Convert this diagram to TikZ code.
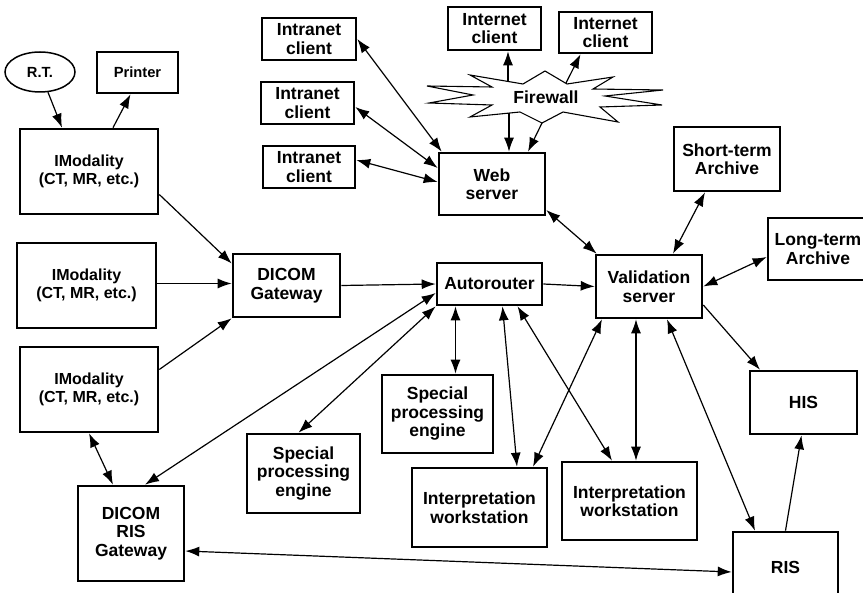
\documentclass[tikz,border=0pt]{standalone}
\usepackage{fontspec}
\setmainfont{Liberation Sans}
\usetikzlibrary{arrows.meta,shapes.geometric}

\begin{document}
\begin{tikzpicture}[x=1pt, y=-1pt,
                    >={Latex[length=14pt,width=10pt]},
                    box/.style={draw, line width=2.6pt, inner sep=0pt, align=center,
                                font=\fontsize{17.5}{18.5}\selectfont\bfseries},
                    smallbox/.style={box, font=\fontsize{14.7}{16}\selectfont\bfseries},
                    modbox/.style={box, minimum width=138pt, minimum height=85pt,
                                   font=\fontsize{16}{18.5}\selectfont\bfseries},
                    link/.style={line width=1.2pt, ->},
                    dlink/.style={line width=1.2pt, <->}]
  \useasboundingbox (0,0) rectangle (863,593);

  \node[draw, ellipse, line width=1.5pt, inner sep=0pt, minimum width=70pt, minimum height=40pt,
        font=\fontsize{14.7}{16}\selectfont\bfseries] (rt) at (40,72) {R.T.};
  \node[smallbox, minimum width=81pt, minimum height=41pt] (printer) at (137.5,72.5) {Printer};
  \node[modbox] (mod1) at (89,171.5) {IModality\\(CT, MR, etc.)};
  \node[modbox, minimum width=139pt] (mod2) at (86.5,285.5) {IModality\\(CT, MR, etc.)};
  \node[modbox] (mod3) at (89,389.5) {IModality\\(CT, MR, etc.)};
  \node[box, minimum width=107pt, minimum height=63pt] (dgw) at (286.5,285.5) {DICOM\\Gateway};
  \node[box, minimum width=106pt, minimum height=95pt] (risgw) at (131,533.5) {DICOM\\RIS\\Gateway};

  \node[box, minimum width=94pt, minimum height=42pt] (intra1) at (309,39) {Intranet\\client};
  \node[box, minimum width=93pt, minimum height=42pt] (intra2) at (307.5,103) {Intranet\\client};
  \node[box, minimum width=92pt, minimum height=42pt] (intra3) at (309,167) {Intranet\\client};
  \node[box, minimum width=93pt, minimum height=43pt] (inet1) at (494.5,28.5) {Internet\\client};
  \node[box, minimum width=93pt, minimum height=41pt] (inet2) at (605.5,32.5) {Internet\\client};

  \draw[line width=1.1pt] (470,75) -- (523,84) -- (545,71) -- (567,84) -- (613,77) -- (593,89)
    -- (663,90) -- (605,96) -- (662,105) -- (600,107) -- (618,122) -- (563,112) -- (542,123)
    -- (520,112) -- (470,117) -- (492,105) -- (429,103) -- (473,95) -- (427,86) -- (492,87) -- cycle;
  \node[font=\fontsize{17.5}{18.5}\selectfont\bfseries] (fw) at (546,97) {Firewall};
  \coordinate (fw1) at (508,81.5);
  \coordinate (fw2) at (566,83);
  \coordinate (fw3) at (509,113);
  \coordinate (fw4) at (542,123);

  \node[box, minimum width=106pt, minimum height=62pt] (web) at (492,184) {Web\\server};
  \node[box, minimum width=105pt, minimum height=42pt] (auto) at (489.5,284) {Autorouter};
  \node[box, minimum width=106pt, minimum height=63pt] (val) at (649,286.5) {Validation\\server};
  \node[box, minimum width=106pt, minimum height=64pt] (sta) at (727,159) {Short-term\\Archive};
  \node[box, minimum width=100pt, minimum height=62pt] (lta) at (818,249) {Long-term\\Archive};
  \node[box, minimum width=113pt, minimum height=79pt] (spe1) at (303.5,473.5) {Special\\processing\\engine};
  \node[box, minimum width=111pt, minimum height=78pt] (spe2) at (437.5,414) {Special\\processing\\engine};
  \node[box, minimum width=135pt, minimum height=79pt] (iws1) at (479.5,507.5) {Interpretation\\workstation};
  \node[box, minimum width=135pt, minimum height=78pt] (iws2) at (629.5,501) {Interpretation\\workstation};
  \node[box, minimum width=107pt, minimum height=63pt] (his) at (803.5,402.5) {HIS};
  \node[box, minimum width=105pt, minimum height=70pt] (ris) at (785.5,567) {RIS};

  \draw[link] (rt) -- ([xshift=-27pt]mod1.north);
  \draw[link] ([xshift=24pt]mod1.north) -- ([xshift=-7pt]printer.south);
  \draw[link] ([yshift=-23pt]mod1.east) -- ([yshift=22pt]dgw.west);
  \draw[link] ([yshift=2pt]mod2.east) -- ([yshift=2pt]dgw.west);
  \draw[link] ([yshift=20pt]mod3.east) -- (dgw.south west);
  \draw[dlink] (mod3.south) -- ([xshift=-18pt]risgw.north);
  \draw[link] (dgw.east) -- (auto.west);
  \draw[link] (auto.east) -- (val.west);
  \draw[dlink] ([yshift=-9pt]auto.west) -- ([xshift=14pt]risgw.north);
  \draw[dlink] (auto.south west) -- ([xshift=-5pt]spe1.north);
  \draw[dlink] ([xshift=-34pt]auto.south) -- ([xshift=18pt]spe2.north);
  \draw[dlink] ([xshift=13pt]auto.south) -- ([xshift=37.5pt]iws1.north);
  \draw[dlink] ([xshift=28pt]auto.south) -- ([xshift=-17.5pt]iws2.north);
  \draw[dlink] ([xshift=-47pt]val.south) -- ([xshift=53.5pt]iws1.north);
  \draw[dlink] ([xshift=-13pt]val.south) -- ([xshift=6.5pt]iws2.north);
  \draw[dlink] ([xshift=18pt]val.south) -- ([xshift=-30.5pt]ris.north);
  \draw[link] ([yshift=-18.5pt]val.east) -- ([xshift=-43.5pt]his.north);
  \draw[link] (ris.north) -- ([xshift=-2pt]his.south);
  \draw[dlink] ([yshift=-17.5pt]risgw.east) -- ([yshift=-5pt]ris.west);
  \draw[dlink] ([xshift=24pt]val.north) -- ([xshift=-22pt]sta.south);
  \draw[dlink] (val.east) -- ([yshift=-8pt]lta.west);
  \draw[dlink] ([yshift=-26pt]web.east) -- ([xshift=2pt]val.north west);
  \draw[dlink] (intra1.east) -- ([xshift=4pt]web.north west);
  \draw[dlink] ([yshift=-4pt]intra2.east) -- ([yshift=16pt]web.west);
  \draw[dlink] ([yshift=7pt]intra3.east) -- ([yshift=2pt]web.west);
  \draw[link] (fw1) -- (fw1 |- inet1.south);
  \draw[link] (fw2) -- ([xshift=-25pt]inet2.south);
  \draw[link] (fw3) -- (fw3 |- web.north);
  \draw[link] (fw4) -- ([xshift=36pt]web.north);
\end{tikzpicture}
\end{document}
